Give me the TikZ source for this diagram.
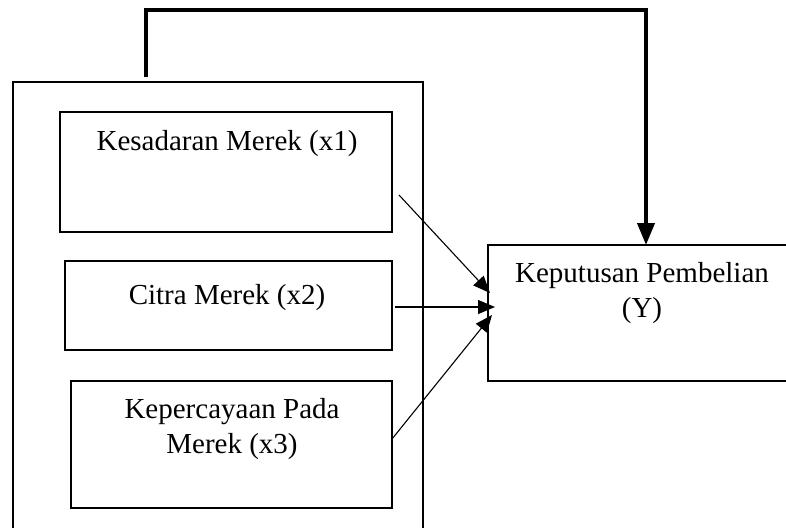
\documentclass[tikz,border=0pt]{standalone}
\usepackage{fontspec}
\setmainfont{Liberation Serif}
\usetikzlibrary{arrows.meta,calc}
\begin{document}
\begin{tikzpicture}[x=1pt,y=-1pt,
  box/.style={draw,line width=1.6pt,inner sep=0pt,outer sep=0pt},
  lbl/.style={font=\fontsize{29}{35}\selectfont,inner sep=0pt,anchor=base},
  arr/.style={line width=1.1pt,-{Triangle[length=17pt,width=14pt]}},
  fb/.style={line width=4pt,-{Triangle[length=22pt,width=17pt]}}]
\useasboundingbox (0,0) rectangle (786,527);
\clip (0,0) rectangle (786,527);
% boxes
\node[box,minimum width=410pt,minimum height=470pt] (outer) at (218,317) {};
\node[box,minimum width=332pt,minimum height=120pt] (b1) at (226,172) {};
\node[box,minimum width=327pt,minimum height=89pt] (b2) at (228.5,305.5) {};
\node[box,minimum width=321pt,minimum height=127pt] (b3) at (231.5,444.5) {};
\node[box,minimum width=332pt,minimum height=136pt] (by) at (654,313) {};
% texts
\node[lbl] (t1) at (227,150) {Kesadaran Merek (x1)};
\node[lbl] (t2) at (227,304) {Citra Merek (x2)};
\node[lbl] (t3a) at (232,418) {Kepercayaan Pada};
\node[lbl] (t3b) at (232,453) {Merek (x3)};
\node[lbl] (ty1) at (642,282) {Keputusan Pembelian};
\node[lbl] (ty2) at (642,317) {(Y)};
% arrows
\coordinate (s1) at ($(b1.east)+(7,23)$);
\coordinate (e1) at ($(by.west)+(2,-20)$);
\coordinate (s2) at ($(b2.east)+(3,1.5)$);
\coordinate (e2) at ($(by.west)+(7,-6)$);
\coordinate (s3) at ($(b3.east)+(0,-5.5)$);
\coordinate (e3) at ($(by.west)+(4,2)$);
\draw[arr] (s1) -- (e1);
\draw[arr] (s2) -- (e2);
\draw[arr] (s3) -- (e3);
% feedback connector
\coordinate (fs) at ($(outer.north)+(-72,-5)$);
\coordinate (ft) at (646,245);
\draw[fb] (fs) -- (fs |- 0,10) -| (ft);
\end{tikzpicture}
\end{document}
